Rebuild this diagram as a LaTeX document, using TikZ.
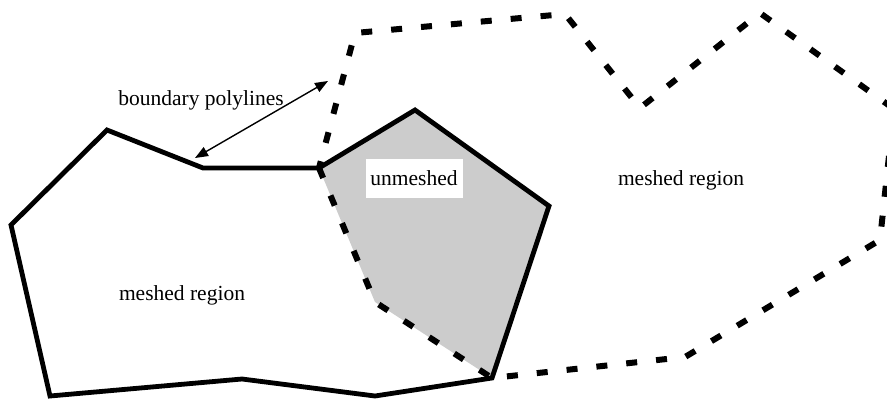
\documentclass[tikz,border=0pt]{standalone}
\usepackage{fontspec}
\setmainfont{Liberation Serif}
\usetikzlibrary{arrows.meta}
\begin{document}
\begin{tikzpicture}[x=1pt,y=-1pt,
  solidline/.style={line width=4.8pt,line join=miter},
  dashline/.style={line width=6pt,dash pattern=on 11pt off 19pt,dash phase=4pt},
  lbl/.style={font=\fontsize{21.5}{26}\selectfont,inner sep=2pt},
  twoarrow/.style={line width=1.4pt,{Triangle[length=13pt,width=10pt]}-{Triangle[length=13pt,width=10pt]}}]
\useasboundingbox (0,0) rectangle (887,402);
\clip (0,0) rectangle (887,402);
% vertices of left meshed region
\coordinate (a1) at (107,130);
\coordinate (a2) at (203,168);
\coordinate (a3) at (319,168);
\coordinate (a4) at (415,110);
\coordinate (a5) at (549,206);
\coordinate (a6) at (492,378);
\coordinate (a7) at (375,396);
\coordinate (a8) at (242,379);
\coordinate (a9) at (50,396);
\coordinate (a10) at (11,225);
% inner dashed vertex
\coordinate (d1) at (375,302);
% right region vertices
\coordinate (r1) at (355,33);
\coordinate (r2) at (565,14);
\coordinate (r3) at (640,108);
\coordinate (r4) at (760,13);
\coordinate (r5) at (894,109);
\coordinate (r6) at (880,240);
\coordinate (r7) at (685,357);
% arrow ends
\coordinate (p1) at (195,158);
\coordinate (p2) at (328,81);
% unmeshed fill
\fill[black!20] (a3) -- (a4) -- (a5) -- (a6) -- (d1) -- cycle;
% dashed right meshed region boundary
\draw[dashline] (a3) -- (r1) -- (r2) -- (r3) -- (r4) -- (r5) -- (r6) -- (r7) -- (a6) -- (d1) -- cycle;
% solid left boundary
\draw[solidline] (a1) -- (a2) -- (a3) -- (a4) -- (a5) -- (a6) -- (a7) -- (a8) -- (a9) -- (a10) -- cycle;
% labels
\node[lbl,fill=white,minimum width=97pt,minimum height=39pt,inner sep=0pt] (un) at (414,178) {unmeshed};
\node[lbl] (m1) at (182,295) {meshed region};
\node[lbl] (m2) at (681,180) {meshed region};
\node[lbl] (bp) at (201,100) {boundary polylines};
\draw[twoarrow] (p1) -- (p2);
\end{tikzpicture}
\end{document}
